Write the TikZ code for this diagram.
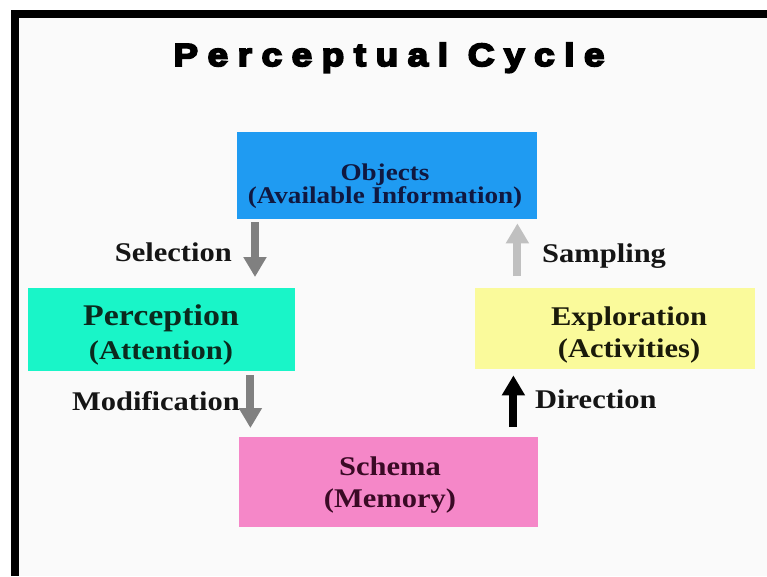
\documentclass[tikz,border=0pt]{standalone}
\usepackage{fontspec}
\setmainfont{Liberation Serif}[FakeStretch=1.13]
\newfontfamily\titlefont{Liberation Sans}[LetterSpace=30,FakeStretch=1.15,BoldFeatures={FakeBold=6}]
\usetikzlibrary{arrows.meta,calc}
\definecolor{pagebg}{HTML}{FAFAFA}
\definecolor{objblue}{HTML}{1F9BF2}
\definecolor{pergreen}{HTML}{19F5C8}
\definecolor{expyellow}{HTML}{FAFA9B}
\definecolor{schpink}{HTML}{F587C8}
\definecolor{objtext}{HTML}{101840}
\definecolor{pertext}{HTML}{0B2A1E}
\definecolor{exptext}{HTML}{1A1A0A}
\definecolor{schtext}{HTML}{3A0A25}
\definecolor{labtext}{HTML}{151515}
\definecolor{midgray}{HTML}{808080}
\definecolor{lightgray}{HTML}{C0C0C0}
\tikzset{
  box/.style={rectangle, inner sep=0pt, anchor=north west},
  boxtext/.style={align=center, inner sep=0pt},
  lab/.style={inner sep=0pt, text=labtext, font=\bfseries\fontsize{27}{31}\selectfont},
  blockarrow/.style={line width=8pt, -{Triangle[width=22pt,length=20pt]}},
}
\begin{document}
\begin{tikzpicture}[x=1pt,y=-1pt]
\useasboundingbox (0,0) rectangle (767,576);
\fill[white] (0,0) rectangle (767,576);
\fill[black] (11,10) rectangle (767,576);
\fill[pagebg] (19,18) rectangle (767,576);
% title
\node[inner sep=0pt, anchor=base] (title) at (389,66) {\titlefont\bfseries\fontsize{32}{36}\selectfont Perceptual Cycle};
% boxes
\node[box, fill=objblue, minimum width=300pt, minimum height=87pt] (obj) at (237,132) {};
\node[box, fill=pergreen, minimum width=267pt, minimum height=83pt] (per) at (28,288) {};
\node[box, fill=expyellow, minimum width=280pt, minimum height=81pt] (exp) at (475,288) {};
\node[box, fill=schpink, minimum width=299pt, minimum height=90pt] (sch) at (239,437) {};
% box texts
\node[boxtext, text=objtext, font=\bfseries\fontsize{24}{23}\selectfont] (objt) at (385,186) {Objects\\(Available Information)};
\node[boxtext, text=pertext, font=\bfseries\fontsize{27}{34}\selectfont] (pert) at (161,335) {{\fontsize{30}{34}\selectfont Perception}\\(Attention)};
\node[boxtext, text=exptext, font=\bfseries\fontsize{27}{32}\selectfont] (expt) at (629,335) {Exploration\\(Activities)};
\node[boxtext, text=schtext, font=\bfseries\fontsize{27}{32}\selectfont] (scht) at (390,485) {Schema\\(Memory)};
% arrows
\draw[blockarrow, midgray] ($(obj.south west)+(18,3)$) -- ($(obj.south west |- per.north)+(18,-11)$);
\draw[blockarrow, midgray] ($(per.south east)+(-45,4)$) -- ($(per.south east |- sch.north)+(-45,-9)$);
\draw[blockarrow, lightgray] ($(obj.south east |- exp.north)+(-20,-12)$) -- ($(obj.south east)+(-20,4)$);
\draw[blockarrow, black] ($(sch.north east)+(-25,-10)$) -- ($(sch.north east |- exp.south)+(-25,6)$);
% labels
\node[lab, anchor=base east] (sel) at (232,261) {Selection};
\node[lab, anchor=base east] (mod) at (240,410) {Modification};
\node[lab, anchor=base west] (samp) at (542,262) {Sampling};
\node[lab, anchor=base west] (dir) at (535,408) {Direction};
\end{tikzpicture}
\end{document}
